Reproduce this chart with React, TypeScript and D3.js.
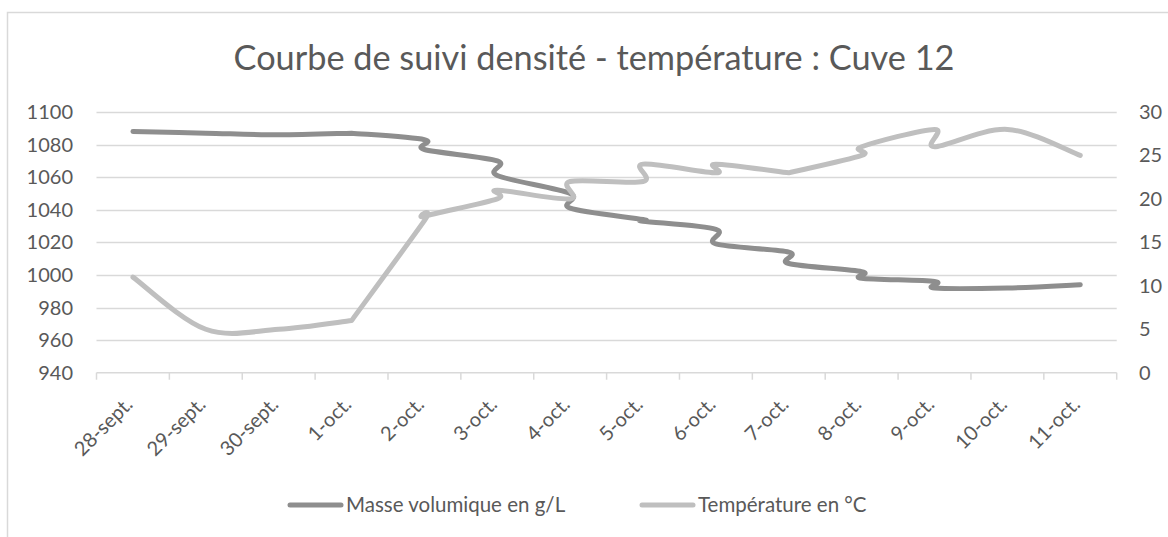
import React, { useEffect, useRef } from "react";
import * as d3 from "d3";

// category axis (one per day)
const days = [
  "28-sept.", "29-sept.", "30-sept.", "1-oct.", "2-oct.", "3-oct.", "4-oct.",
  "5-oct.", "6-oct.", "7-oct.", "8-oct.", "9-oct.", "10-oct.", "11-oct.",
];

// readings: two per day from 1-oct. to 9-oct.
const readingDays = [
  "28-sept.", "29-sept.", "30-sept.", "1-oct.", "1-oct.", "2-oct.", "2-oct.", "3-oct.", "3-oct.",
  "4-oct.", "4-oct.", "5-oct.", "5-oct.", "6-oct.", "6-oct.", "7-oct.", "7-oct.",
  "8-oct.", "8-oct.", "9-oct.", "9-oct.", "10-oct.", "11-oct.",
];
const density = [
  1088, 1087, 1086, 1087, 1087, 1083, 1077, 1070, 1061, 1050, 1041, 1034, 1033,
  1028, 1019, 1014, 1007, 1002, 998, 996, 992, 992, 994,
];
const temperature = [
  11, 5, 5, 6, 6, 17.5, 18, 20, 21, 20, 22, 22, 24, 23, 24, 23, 23, 25, 26, 28, 26, 28, 25,
];

const densityTicks = [940, 960, 980, 1000, 1020, 1040, 1060, 1080, 1100];
const tempTicks = [0, 5, 10, 15, 20, 25, 30];

const seriesNames = ["Masse volumique en g/L", "Température en °C"];
const title = "Courbe de suivi densité - température : Cuve 12";

const W = 1168;
const H = 537;
const plot = { left: 96.5, right: 1116.7, top: 112, bottom: 372.7 };
const font = "Lato, 'Open Sans', sans-serif";
const textColor = "#595959";
const gridColor = "#d9d9d9";
const darkLine = "#8e8e8e";
const lightLine = "#bfbfbf";

// smoothing like the spreadsheet: bezier handles at 1/6 of the neighbour chord,
// repeated identical points just give a corner
const excelCurve = (context: any) => {
  let pts: [number, number][] = [];
  return {
    areaStart() {},
    areaEnd() {},
    lineStart() {
      pts = [];
    },
    point(x: number, y: number) {
      pts.push([+x, +y]);
    },
    lineEnd() {
      const n = pts.length;
      if (!n) return;
      context.moveTo(pts[0][0], pts[0][1]);
      for (let i = 0; i < n - 1; i++) {
        const p0 = pts[Math.max(i - 1, 0)];
        const p1 = pts[i];
        const p2 = pts[i + 1];
        const p3 = pts[Math.min(i + 2, n - 1)];
        if (p1[0] === p2[0] && p1[1] === p2[1]) continue;
        context.bezierCurveTo(
          p1[0] + (p2[0] - p0[0]) / 6,
          p1[1] + (p2[1] - p0[1]) / 6,
          p2[0] - (p3[0] - p1[0]) / 6,
          p2[1] - (p3[1] - p1[1]) / 6,
          p2[0],
          p2[1]
        );
      }
    },
  };
};

export default function App() {
  const ref = useRef<SVGSVGElement>(null);

  useEffect(() => {
    const svg = d3.select(ref.current);
    svg.selectAll("*").remove();

    const x = d3.scaleBand().domain(days).range([plot.left, plot.right]).padding(0);
    const yLeft = d3.scaleLinear().domain([940, 1100]).range([plot.bottom, plot.top]);
    const yRight = d3.scaleLinear().domain([0, 30]).range([plot.bottom, plot.top]);
    const cx = (d: string) => (x(d) as number) + x.bandwidth() / 2;

    // chart frame
    svg
      .append("rect")
      .attr("x", 7.5)
      .attr("y", 12.5)
      .attr("width", W)
      .attr("height", H)
      .attr("fill", "white")
      .attr("stroke", gridColor)
      .attr("stroke-width", 1.5);

    svg
      .append("text")
      .attr("x", 594)
      .attr("y", 70)
      .attr("text-anchor", "middle")
      .style("font", `34.3px ${font}`)
      .style("fill", textColor)
      .text(title);

    // gridlines
    svg
      .append("g")
      .selectAll("line")
      .data(densityTicks.slice(1))
      .enter()
      .append("line")
      .attr("x1", plot.left)
      .attr("x2", plot.right)
      .attr("y1", d => Math.round(yLeft(d)) + 0.5)
      .attr("y2", d => Math.round(yLeft(d)) + 0.5)
      .attr("stroke", gridColor)
      .attr("stroke-width", 1.5);

    // category axis
    const ax = svg.append("g");
    ax.append("line")
      .attr("x1", plot.left)
      .attr("x2", plot.right)
      .attr("y1", plot.bottom)
      .attr("y2", plot.bottom)
      .attr("stroke", gridColor)
      .attr("stroke-width", 1.5);
    const tickXs = days.map(d => x(d) as number).concat([plot.right]);
    ax.selectAll("line.tick")
      .data(tickXs)
      .enter()
      .append("line")
      .attr("class", "tick")
      .attr("x1", d => d)
      .attr("x2", d => d)
      .attr("y1", plot.bottom)
      .attr("y2", plot.bottom + 7)
      .attr("stroke", gridColor)
      .attr("stroke-width", 1.5);
    ax.selectAll("text")
      .data(days)
      .enter()
      .append("text")
      .attr("text-anchor", "end")
      .attr("transform", d => `translate(${cx(d) + 1},${plot.bottom + 33}) rotate(-45)`)
      .style("font", `20px ${font}`)
      .style("fill", textColor)
      .text(d => d);

    // value axes
    svg
      .append("g")
      .selectAll("text")
      .data(densityTicks)
      .enter()
      .append("text")
      .attr("x", 73)
      .attr("y", d => yLeft(d))
      .attr("dy", "0.35em")
      .attr("text-anchor", "end")
      .style("font", `20px ${font}`)
      .style("fill", textColor)
      .text(d => d);

    svg
      .append("g")
      .selectAll("text")
      .data(tempTicks)
      .enter()
      .append("text")
      .attr("x", 1139)
      .attr("y", d => yRight(d))
      .attr("dy", "0.35em")
      .style("font", `20px ${font}`)
      .style("fill", textColor)
      .text(d => d);

    // lines
    const densityLine = d3
      .line<number>()
      .x((d, i) => cx(readingDays[i]))
      .y(d => yLeft(d))
      .curve(excelCurve as any);
    const tempLine = d3
      .line<number>()
      .x((d, i) => cx(readingDays[i]))
      .y(d => yRight(d))
      .curve(excelCurve as any);

    svg
      .append("path")
      .attr("d", densityLine(density))
      .attr("fill", "none")
      .attr("stroke", darkLine)
      .attr("stroke-width", 5)
      .attr("stroke-linecap", "round")
      .attr("stroke-linejoin", "round");

    svg
      .append("path")
      .attr("d", tempLine(temperature))
      .attr("fill", "none")
      .attr("stroke", lightLine)
      .attr("stroke-width", 5)
      .attr("stroke-linecap", "round")
      .attr("stroke-linejoin", "round");

    // legend
    const legend = [
      { name: seriesNames[0], color: darkLine, x: 290 },
      { name: seriesNames[1], color: lightLine, x: 642 },
    ];
    const lg = svg.append("g").selectAll("g").data(legend).enter().append("g");
    lg.append("line")
      .attr("x1", d => d.x)
      .attr("x2", d => d.x + 51)
      .attr("y1", 505)
      .attr("y2", 505)
      .attr("stroke", d => d.color)
      .attr("stroke-width", 5)
      .attr("stroke-linecap", "round");
    lg.append("text")
      .attr("x", d => d.x + 56)
      .attr("y", 505)
      .attr("dy", "0.35em")
      .style("font", `20.5px ${font}`)
      .style("fill", textColor)
      .text(d => d.name);
  }, []);

  return (
    <svg
      ref={ref}
      width={W}
      height={H}
      style={{ position: "absolute", left: 0, top: 0, background: "white" }}
    />
  );
}
